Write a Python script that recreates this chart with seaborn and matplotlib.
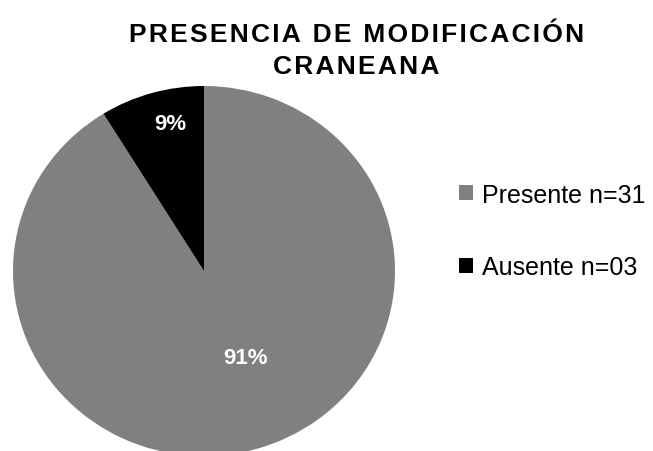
import matplotlib
matplotlib.use("Agg")
import matplotlib.pyplot as plt
import seaborn as sns

# data
categorias = ["Presente n=31", "Ausente n=03"]
conteos = [31, 3]
colores = ["#808080", "#000000"]
titulo = "PRESENCIA DE MODIFICACIÓN\nCRANEANA"

sns.set_theme(style="white")
plt.rcParams['font.family'] = ['Liberation Sans', 'DejaVu Sans']
plt.rcParams['text.color'] = 'black'

fig = plt.figure(figsize=(6.53, 4.52), dpi=100)
ax = fig.add_axes([0.0199, -0.0111, 0.585, 0.8186])

wedges, texts, autotexts = ax.pie(
    conteos, colors=colores, startangle=90, counterclock=False,
    autopct=lambda p: f"{p:.0f}%", pctdistance=0.5,
    wedgeprops=dict(linewidth=0),
    textprops=dict(color="white", fontsize=16, fontweight="bold"))

# label placement inside each slice (axes data units)
pos_etiquetas = [(0.215, -0.47), (-0.178, 0.795)]
for t, p in zip(autotexts, pos_etiquetas):
    t.set_position(p)

ax.set_xlim(-1, 1)
ax.set_ylim(-1, 1)
ax.set_aspect("auto")

# letter spaced title
espaciado = "\n".join("\u200a".join(linea) for linea in titulo.split("\n"))
fig.text(0.546, 1 - 51 / 452, espaciado, ha="center", va="center",
         fontsize=19, fontweight="bold", linespacing=1.45,
         multialignment="center", color="black")

leg = fig.legend(wedges, categorias, loc="center left",
                 bbox_to_anchor=(459 / 653, 1 - 232 / 452),
                 frameon=False, fontsize=18, handlelength=0.56,
                 handleheight=0.56, handletextpad=0.36, labelspacing=1.95,
                 borderpad=0, borderaxespad=0)
for txt in leg.get_texts():
    txt.set_color("black")

fig.savefig("out.png", dpi=100)
